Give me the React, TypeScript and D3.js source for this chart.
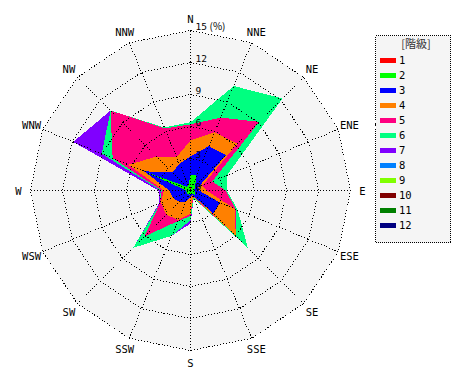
import React from 'react';
import * as d3 from 'd3';

const directions = ['N','NNE','NE','ENE','E','ESE','SE','SSE','S','SSW','SW','WSW','W','WNW','NW','NNW'];
const classes = ['1','2','3','4','5','6','7','8','9','10','11','12'];
const colors = ['#ff0000','#00ff00','#0000ff','#ff8000','#ff0080','#00ff80','#8000ff','#0080ff','#80ff00','#800000','#008000','#000080'];
const ticks = [0, 3, 6, 9, 12, 15];

// frequency (%) per class, by direction (N, NNE, ... NNW)
const class1 = [0.3,0.2,0.1,0.1,0.1,0.1,0.1,0.1,0.1,0.1,0.1,0.1,0.1,0.2,0.1,0.1];
const class2 = [1.2,1.3,0.5,0.3,0.2,0.4,0.5,0.2,0.3,0.3,0.3,0.3,0.3,4.2,0.4,0.4];
const class3 = [1.7,3.0,4.1,0.4,0.5,2.5,2.4,0.2,0.2,0.8,1.1,1.4,1.6,0.3,1.9,2.2];
const class4 = [1.5,1.4,1.5,0.4,0.7,1.5,3.0,0.1,1.6,1.8,1.7,1.2,0.5,1.6,2.1,0.7];
const class5 = [1.5,1.5,2.9,1.0,1.8,0.1,0.0,0.1,0.2,0.1,2.9,0.1,0.2,1.6,6.1,2.9];
const class6 = [0.2,3.2,3.1,1.5,0.1,0.2,1.6,0.1,0.4,1.5,1.5,0.0,0.1,1.1,0.0,0.1];
const class7 = [0.0,0.0,0.0,0.0,0.0,0.0,0.0,0.0,0.3,0.0,0.0,0.1,0.2,2.9,0.0,0.0];
const class8 = [0,0,0,0,0,0,0,0,0,0,0,0,0,0,0,0];
const class9 = [0,0,0,0,0,0,0,0,0,0,0,0,0,0,0,0];
const class10 = [0,0,0,0,0,0,0,0,0,0,0,0,0,0,0,0];
const class11 = [0,0,0,0,0,0,0,0,0,0,0,0,0,0,0,0];
const class12 = [0,0,0,0,0,0,0,0,0,0,0,0,0,0,0,0];
const classValues = [class1,class2,class3,class4,class5,class6,class7,class8,class9,class10,class11,class12];

const W = 470, H = 380;
const cx = 190, cy = 190;
const R = 160;

export default function App() {
  const r = d3.scaleLinear().domain([0, 15]).range([0, R]);
  const ang = d3.scaleLinear().domain([0, directions.length]).range([0, 2 * Math.PI]);

  const table = directions.map((d, i) => {
    const row: any = { dir: d };
    classes.forEach((c, k) => { row[c] = classValues[k][i]; });
    return row;
  });
  const series = d3.stack().keys(classes)(table);

  const radial = d3.lineRadial<number>()
    .angle((_, i) => ang(i))
    .radius((v) => r(v))
    .curve(d3.curveLinearClosed);

  const ring = (t: number) => radial(directions.map(() => t)) as string;
  const outer = R;
  const labelR = 172;
  const mono = '"DejaVu Sans Mono", monospace';

  return (
    <svg width={W} height={H} style={{ position: 'absolute', left: 0, top: 0, background: '#fff' }}>
      <g transform={`translate(${cx + 0.5},${cy + 0.5})`}>
        <path d={ring(15)} fill="#f5f5f5" stroke="none" />
        {series.slice().reverse().map((s) => {
          const k = classes.indexOf(s.key);
          return (
            <path key={s.key} d={radial(s.map((p) => p[1])) as string}
              fill={colors[k]} stroke="none" shapeRendering="crispEdges" />
          );
        })}
        {ticks.filter((t) => t > 0).map((t) => (
          <path key={t} d={ring(t)} fill="none" stroke="#000" strokeWidth={1}
            strokeDasharray="1,2" shapeRendering="crispEdges" />
        ))}
        {directions.map((d, i) => {
          const a = ang(i);
          return (
            <line key={d} x1={0} y1={0} x2={outer * Math.sin(a)} y2={-outer * Math.cos(a)}
              stroke="#000" strokeWidth={1} strokeDasharray="1,2" shapeRendering="crispEdges" />
          );
        })}
        {directions.map((d, i) => {
          const a = ang(i);
          return (
            <text key={'l' + d} x={labelR * Math.sin(a)} y={-labelR * Math.cos(a) + 4}
              textAnchor="middle" fontFamily={mono} fontSize={10.5} fill="#000">{d}</text>
          );
        })}
        {ticks.map((t) => (
          <text key={'t' + t} x={5} y={-r(t) - 1} fontFamily={mono} fontSize={9.5} fill="#000">{t}</text>
        ))}
        <text x={19} y={-r(15) - 1} fontFamily='"Noto Sans CJK JP", sans-serif' fontSize={10} fill="#000">(%)</text>
      </g>
      <g>
        <rect x={375.5} y={35.5} width={75} height={207} fill="#f5f5f5" stroke="#000"
          strokeWidth={1} strokeDasharray="1,1" shapeRendering="crispEdges" />
        <text x={416} y={48} textAnchor="middle" fontFamily='"Noto Sans CJK JP", sans-serif'
          fontSize={11} fill="#333">[階級]</text>
        {classes.map((c, k) => (
          <g key={'lg' + c}>
            <rect x={380} y={58 + 15 * k} width={16} height={4.5} fill={colors[k]} shapeRendering="crispEdges" />
            <text x={399} y={63.5 + 15 * k} fontFamily={mono} fontSize={10.5} fill="#000">{c}</text>
          </g>
        ))}
      </g>
    </svg>
  );
}
